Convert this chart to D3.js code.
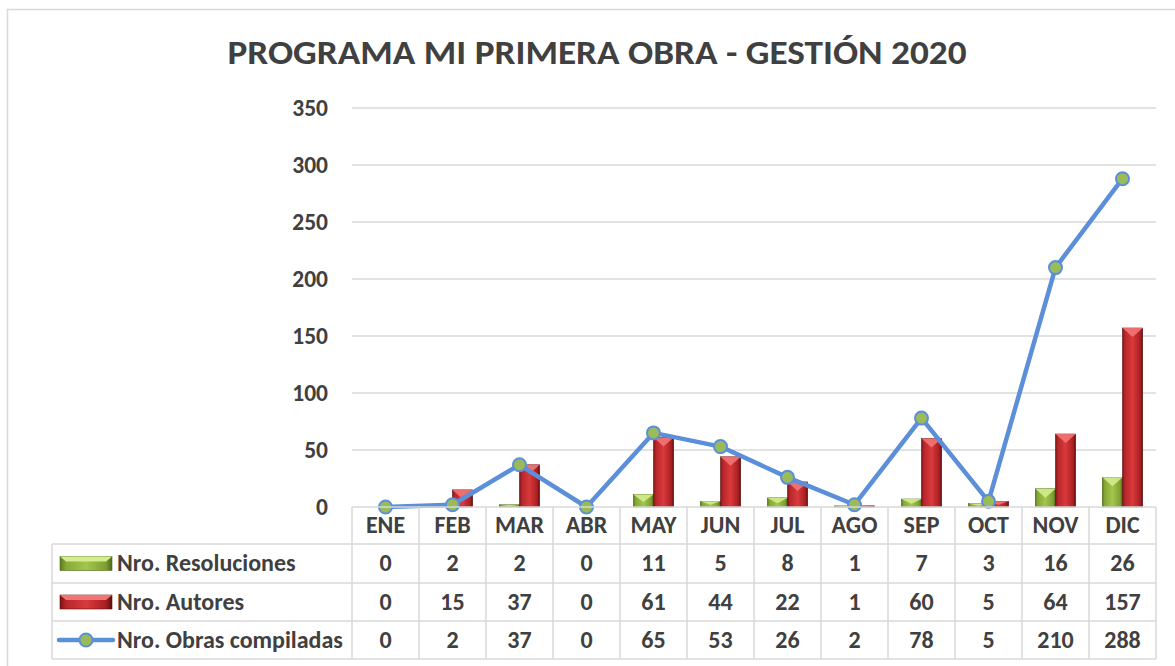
<!DOCTYPE html>
<html>
<head>
<meta charset="utf-8">
<script src="https://cdn.jsdelivr.net/npm/d3@7"></script>
<style>
  html, body { margin: 0; padding: 0; background: #ffffff; }
  svg { display: block; }
</style>
</head>
<body>
<div id="chart"></div>
<script>
// Programa Mi Primera Obra - bars + line + data table (Excel style)

const months = ["ENE", "FEB", "MAR", "ABR", "MAY", "JUN", "JUL", "AGO", "SEP", "OCT", "NOV", "DIC"];
const resoluciones = [0, 2, 2, 0, 11, 5, 8, 1, 7, 3, 16, 26];
const autores = [0, 15, 37, 0, 61, 44, 22, 1, 60, 5, 64, 157];
const obras = [0, 2, 37, 0, 65, 53, 26, 2, 78, 5, 210, 288];
const yTicks = [0, 50, 100, 150, 200, 250, 300, 350];
const seriesNames = ["Nro. Resoluciones", "Nro. Autores", "Nro. Obras compiladas"];

function drawChart() {
  const width = 1175;
  const height = 666;
  const font = 'Carlito, Calibri, "Open Sans", sans-serif';
  const ink = "#404040";
  const gridColor = "#d9d9d9";

  const svg = d3.select("#chart")
    .append("svg")
    .attr("width", width)
    .attr("height", height);

  const defs = svg.append("defs");

  function hGrad(id, stops) {
    const g = defs.append("linearGradient").attr("id", id)
      .attr("x1", 0).attr("x2", 1).attr("y1", 0).attr("y2", 0);
    stops.forEach(function(s) {
      g.append("stop").attr("offset", s[0]).attr("stop-color", s[1]);
    });
  }
  hGrad("redBody", [[0, "#7d1414"], [0.12, "#b8262a"], [0.5, "#d93a3c"], [0.88, "#a81f22"], [1, "#5e0e0e"]]);
  hGrad("greenBody", [[0, "#5a7a1e"], [0.12, "#86a937"], [0.5, "#a3c64e"], [0.88, "#7f9f31"], [1, "#4d6a18"]]);

  // outer chart frame
  svg.append("rect")
    .attr("x", 7.5).attr("y", 9.5)
    .attr("width", width + 20).attr("height", height + 20)
    .attr("fill", "none")
    .attr("stroke", gridColor)
    .attr("stroke-width", 1.5);

  svg.append("text")
    .attr("x", 597)
    .attr("y", 64)
    .attr("text-anchor", "middle")
    .attr("fill", ink)
    .attr("font-family", font)
    .attr("font-weight", 700)
    .attr("font-size", 34)
    .attr("textLength", 739)
    .attr("lengthAdjust", "spacingAndGlyphs")
    .text("PROGRAMA MI PRIMERA OBRA - GESTIÓN 2020");

  const x = d3.scaleBand().domain(months).range([352, 1156]).padding(0);
  const x1 = d3.scaleBand().domain(["res", "aut"]).range([0, x.bandwidth()])
    .paddingInner(0).paddingOuter(0.66);
  const y = d3.scaleLinear().domain([0, 350]).range([507, 108]);

  // gridlines
  svg.append("g")
    .selectAll("line")
    .data(yTicks.filter(function(t) { return t > 0; }))
    .join("line")
    .attr("x1", x.range()[0]).attr("x2", x.range()[1])
    .attr("y1", function(d) { return y(d); })
    .attr("y2", function(d) { return y(d); })
    .attr("stroke", gridColor)
    .attr("stroke-width", 1.5);

  // y axis labels
  const yAxis = d3.axisLeft(y).tickValues(yTicks).tickSize(0).tickPadding(24);
  const yg = svg.append("g").attr("transform", "translate(352,0)").call(yAxis);
  yg.select(".domain").remove();
  yg.selectAll("text")
    .attr("fill", ink)
    .attr("font-family", font)
    .attr("font-weight", 700)
    .attr("font-size", 23.5);

  // beveled bars
  function drawBars(values, key, bodyFill, topFill, edge) {
    const g = svg.append("g");
    months.forEach(function(m, i) {
      const v = values[i];
      if (v <= 0) return;
      const bx = x(m) + x1(key);
      const bw = x1.bandwidth();
      const top = y(v);
      const h = y(0) - top;
      g.append("rect")
        .attr("x", bx).attr("y", top)
        .attr("width", bw).attr("height", h)
        .attr("fill", bodyFill)
        .attr("stroke", edge)
        .attr("stroke-width", 0.6);
      const bev = Math.min(9, h * 0.6);
      g.append("path")
        .attr("d", "M" + bx + "," + top + "L" + (bx + bw) + "," + top +
          "L" + (bx + bw / 2) + "," + (top + bev) + "Z")
        .attr("fill", topFill)
        .attr("opacity", 0.9);
    });
  }
  drawBars(resoluciones, "res", "url(#greenBody)", "#d3ec8c", "#4d6a18");
  drawBars(autores, "aut", "url(#redBody)", "#f27474", "#5e0e0e");

  // line series
  const cx = function(i) { return x(months[i]) + x.bandwidth() / 2; };
  const line = d3.line()
    .x(function(d, i) { return cx(i); })
    .y(function(d) { return y(d); });

  svg.append("path")
    .datum(obras)
    .attr("d", line)
    .attr("fill", "none")
    .attr("stroke", "#5b8fd9")
    .attr("stroke-width", 4.5)
    .attr("stroke-linejoin", "round");

  svg.append("g")
    .selectAll("circle")
    .data(obras)
    .join("circle")
    .attr("cx", function(d, i) { return cx(i); })
    .attr("cy", function(d) { return y(d); })
    .attr("r", 6.5)
    .attr("fill", "#9bbb59")
    .attr("stroke", "#5b8fd9")
    .attr("stroke-width", 2);

  // data table
  const rowTops = [507, 544, 583, 621, 659];
  const tableLeft = 52;
  const table = svg.append("g");
  const stroke = { stroke: gridColor, w: 1.5 };

  table.append("line")
    .attr("x1", x.range()[0]).attr("x2", x.range()[1])
    .attr("y1", rowTops[0]).attr("y2", rowTops[0])
    .attr("stroke", stroke.stroke).attr("stroke-width", stroke.w);
  rowTops.slice(1).forEach(function(ry) {
    table.append("line")
      .attr("x1", tableLeft).attr("x2", x.range()[1])
      .attr("y1", ry).attr("y2", ry)
      .attr("stroke", stroke.stroke).attr("stroke-width", stroke.w);
  });
  months.concat(["end"]).forEach(function(m, i) {
    const lx = i < months.length ? x(m) : x.range()[1];
    table.append("line")
      .attr("x1", lx).attr("x2", lx)
      .attr("y1", rowTops[0]).attr("y2", rowTops[4])
      .attr("stroke", stroke.stroke).attr("stroke-width", stroke.w);
  });
  table.append("line")
    .attr("x1", tableLeft).attr("x2", tableLeft)
    .attr("y1", rowTops[1]).attr("y2", rowTops[4])
    .attr("stroke", stroke.stroke).attr("stroke-width", stroke.w);

  function cellText(tx, ty, txt, anchor) {
    table.append("text")
      .attr("x", tx).attr("y", ty)
      .attr("dy", "0.33em")
      .attr("text-anchor", anchor || "middle")
      .attr("fill", ink)
      .attr("font-family", font)
      .attr("font-weight", 700)
      .attr("font-size", 24)
      .text(txt);
  }

  months.forEach(function(m, i) {
    cellText(cx(i), (rowTops[0] + rowTops[1]) / 2, m);
  });
  [resoluciones, autores, obras].forEach(function(vals, r) {
    const ry = (rowTops[r + 1] + rowTops[r + 2]) / 2;
    vals.forEach(function(v, i) { cellText(cx(i), ry, v); });
    cellText(117, ry, seriesNames[r], "start");
  });

  // legend keys inside the table
  function swatch(ry, bodyFill, topFill, edge) {
    table.append("rect")
      .attr("x", 60).attr("y", ry - 7)
      .attr("width", 52).attr("height", 14)
      .attr("fill", bodyFill)
      .attr("stroke", edge).attr("stroke-width", 0.6);
    table.append("path")
      .attr("d", "M60," + (ry - 7) + "L112," + (ry - 7) + "L106," + (ry - 2) + "L66," + (ry - 2) + "Z")
      .attr("fill", topFill);
  }
  swatch((rowTops[1] + rowTops[2]) / 2, "url(#greenBody)", "#d3ec8c", "#4d6a18");
  swatch((rowTops[2] + rowTops[3]) / 2, "url(#redBody)", "#f27474", "#5e0e0e");
  const ly = (rowTops[3] + rowTops[4]) / 2;
  table.append("line")
    .attr("x1", 59).attr("x2", 113)
    .attr("y1", ly).attr("y2", ly)
    .attr("stroke", "#5b8fd9").attr("stroke-width", 4.5)
    .attr("stroke-linecap", "round");
  table.append("circle")
    .attr("cx", 86).attr("cy", ly).attr("r", 6.5)
    .attr("fill", "#9bbb59")
    .attr("stroke", "#5b8fd9").attr("stroke-width", 2);
}

if (document.readyState === "loading") {
  document.addEventListener("DOMContentLoaded", drawChart);
} else {
  drawChart();
}
</script>
</body>
</html>
